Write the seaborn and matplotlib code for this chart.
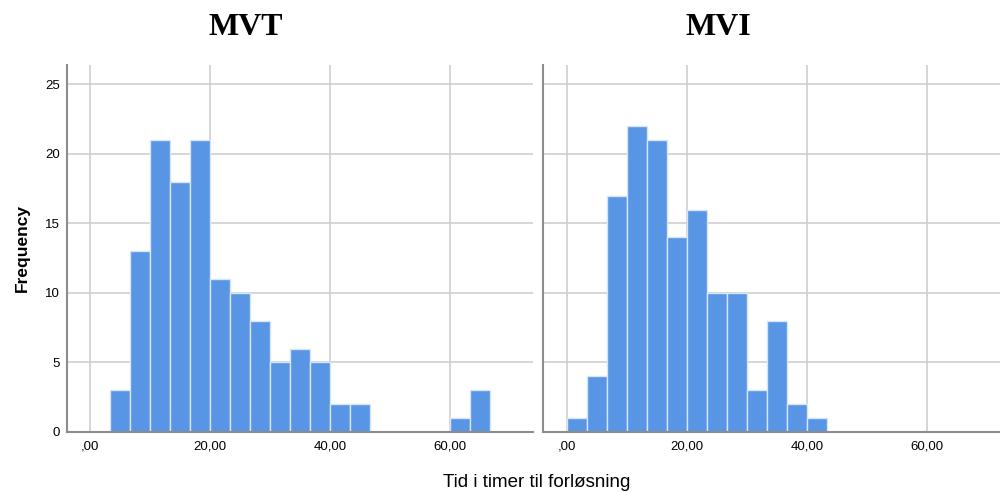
import numpy as np
import pandas as pd
import matplotlib
matplotlib.use('Agg')
import matplotlib.pyplot as plt
import seaborn as sns

# Histogram counts (bin width 10/3 hours)
mvt_edges = [10/3 * k for k in range(1, 21)]
mvt_counts = [3, 13, 21, 18, 21, 11, 10, 8, 5, 6, 5, 2, 2, 0, 0, 0, 0, 1, 3]

mvi_edges = [10/3 * k for k in range(0, 14)]
mvi_counts = [1, 4, 17, 22, 21, 14, 16, 10, 10, 3, 8, 2, 1]

panel_titles = ['MVT', 'MVI']
x_ticks = [0, 20, 40, 60]
x_ticklabels = [',00', '20,00', '40,00', '60,00']
y_ticks = [0, 5, 10, 15, 20, 25]

sns.set_style('white')
plt.rcParams['font.family'] = ['Liberation Sans', 'DejaVu Sans']
plt.rcParams['text.color'] = 'black'

bar_color = '#5895e4'
grid_color = '#cfcfcf'
spine_color = '#8c8c8c'

fig = plt.figure(figsize=(10, 4.92), dpi=100)
ax1 = fig.add_axes([0.0667, 0.122, 0.466, 0.746])
ax2 = fig.add_axes([0.5427, 0.122, 0.4573, 0.746])

panels = [
    (ax1, mvt_edges, mvt_counts, (-3.9, 73.8)),
    (ax2, mvi_edges, mvi_counts, (-4.0, 72.2)),
]

for i, (ax, edges, counts, xlim) in enumerate(panels):
    e = np.array(edges)
    df = pd.DataFrame({'tid': (e[:-1] + e[1:]) / 2, 'n': counts})
    sns.histplot(data=df, x='tid', weights='n', bins=list(edges), ax=ax,
                 color=bar_color, alpha=1, edgecolor='#d6e5fa', linewidth=1, zorder=3)
    ax.set_xlim(*xlim)
    ax.set_ylim(0, 26.4)
    ax.set_xticks(x_ticks)
    ax.set_xticklabels(x_ticklabels)
    ax.set_yticks(y_ticks)
    ax.grid(True, color=grid_color, linewidth=1.2, zorder=0)
    ax.set_axisbelow(True)
    for s in ['top', 'right']:
        ax.spines[s].set_visible(False)
    for s in ['left', 'bottom']:
        ax.spines[s].set_color(spine_color)
        ax.spines[s].set_linewidth(1.5)
        ax.spines[s].set_zorder(4)
    ax.tick_params(axis='x', length=0, pad=6, labelsize=9.5, labelcolor='black')
    ax.tick_params(axis='y', length=0, pad=5, labelsize=9.5, labelcolor='black')
    ax.set_xlabel('')
    ax.set_ylabel('')
    ax.set_title(panel_titles[i], x=0.385, pad=21.5, fontsize=23, color='black',
                 fontweight='bold', family=['Liberation Serif', 'DejaVu Serif'])
    if i == 1:
        ax.tick_params(axis='y', labelleft=False)

fig.text(0.022, (492 - 248) / 492, 'Frequency', rotation=90, ha='center', va='center',
         fontsize=12.5, fontweight='bold', color='black')
fig.text(0.537, (492 - 487) / 492, 'Tid i timer til forløsning', ha='center', va='baseline',
         fontsize=13.5, color='black')

fig.savefig('out.png', dpi=100)
